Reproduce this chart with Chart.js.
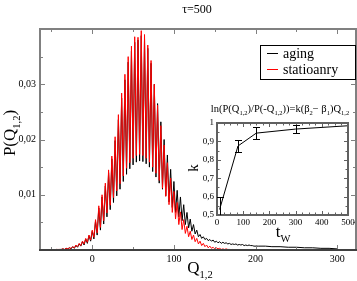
<!DOCTYPE html>
<html>
<head>
<meta charset="utf-8">
<script src="https://cdn.jsdelivr.net/npm/chart.js@4.4.1/dist/chart.umd.min.js"></script>
<style>
  html, body { margin: 0; padding: 0; background: #fff; }
  #wrap { position: relative; width: 357px; height: 281px; }
  #insetBox { position: absolute; left: 180px; top: 100px; width: 177px; height: 145px; }
</style>
</head>
<body>
<div id="wrap">
  <canvas id="mainChart" width="357" height="281"></canvas>
  <div id="insetBox"><canvas id="insetChart" width="177" height="145"></canvas></div>
</div>
<script>
// ---- data: P(Q_1,2), comb-shaped (peak / valley alternating every 2 in Q) ----
const qGrid = [
  -48, -46, -44, -42, -40, -38, -36, -34, -32, -30,
  -28, -26, -24, -22, -20, -18, -16, -14, -12, -10,
  -8, -6, -4, -2, 0, 2, 4, 6, 8, 10,
  12, 14, 16, 18, 20, 22, 24, 26, 28, 30,
  32, 34, 36, 38, 40, 42, 44, 46, 48, 50,
  52, 54, 56, 58, 60, 62, 64, 66, 68, 70,
  72, 74, 76, 78, 80, 82, 84, 86, 88, 90,
  92, 94, 96, 98, 100, 102, 104, 106, 108, 110,
  112, 114, 116, 118, 120, 122, 124, 126, 128, 130,
  132, 134, 136, 138, 140, 142, 144, 146, 148, 150,
  152, 154, 156, 158, 160, 162, 164, 166, 168, 170,
  172, 174, 176, 178, 180, 182, 184, 186, 188, 190,
  192, 194, 196, 198
];
const agingP = [
  0.0000, 0.0000, 0.0001, 0.0000, 0.0001, 0.0001, 0.0002, 0.0001, // -48
  0.0003, 0.0002, 0.0004, 0.0002, 0.0006, 0.0003, 0.0008, 0.0005, // -32
  0.0011, 0.0007, 0.0015, 0.0009, 0.0020, 0.0012, 0.0026, 0.0016, // -16
  0.0034, 0.0020, 0.0052, 0.0027, 0.0076, 0.0036, 0.0096, 0.0047, // 0
  0.0116, 0.0060, 0.0140, 0.0073, 0.0165, 0.0086, 0.0198, 0.0098, // 16
  0.0236, 0.0110, 0.0275, 0.0124, 0.0308, 0.0137, 0.0340, 0.0147, // 32
  0.0360, 0.0154, 0.0376, 0.0159, 0.0380, 0.0161, 0.0388, 0.0160, // 48
  0.0382, 0.0156, 0.0365, 0.0150, 0.0338, 0.0142, 0.0300, 0.0132, // 64
  0.0265, 0.0121, 0.0232, 0.0110, 0.0200, 0.0098, 0.0172, 0.0087, // 80
  0.0146, 0.0077, 0.0124, 0.0068, 0.0108, 0.0060, 0.0096, 0.0053, // 96
  0.0082, 0.0046, 0.0068, 0.0040, 0.0056, 0.0034, 0.0046, 0.0029, // 112
  0.0036, 0.0024, 0.0028, 0.0021, 0.0024, 0.0019, 0.0021, 0.0017, // 128
  0.0019, 0.0016, 0.0018, 0.0014, 0.0016, 0.0013, 0.0015, 0.0012, // 144
  0.0014, 0.0012, 0.0013, 0.0011, 0.0012, 0.0010, 0.0011, 0.0010, // 160
  0.0011, 0.0009, 0.0010, 0.0009, 0.0010, 0.0008, 0.0009, 0.0008, // 176
  0.0009, 0.0008, 0.0008, 0.0007                                  // 192
];
const statP = [
  0.0000, 0.0000, 0.0001, 0.0001, 0.0001, 0.0001, 0.0002, 0.0001, // -48
  0.0003, 0.0002, 0.0004, 0.0003, 0.0006, 0.0004, 0.0009, 0.0006, // -32
  0.0012, 0.0008, 0.0016, 0.0011, 0.0021, 0.0014, 0.0027, 0.0018, // -16
  0.0036, 0.0023, 0.0055, 0.0031, 0.0080, 0.0041, 0.0100, 0.0053, // 0
  0.0121, 0.0067, 0.0145, 0.0081, 0.0170, 0.0095, 0.0205, 0.0107, // 16
  0.0245, 0.0120, 0.0284, 0.0134, 0.0318, 0.0148, 0.0350, 0.0158, // 32
  0.0369, 0.0166, 0.0386, 0.0171, 0.0385, 0.0173, 0.0397, 0.0171, // 48
  0.0390, 0.0166, 0.0371, 0.0159, 0.0343, 0.0150, 0.0300, 0.0139, // 64
  0.0262, 0.0126, 0.0225, 0.0112, 0.0190, 0.0097, 0.0158, 0.0082, // 80
  0.0130, 0.0068, 0.0106, 0.0056, 0.0086, 0.0046, 0.0069, 0.0037, // 96
  0.0055, 0.0030, 0.0043, 0.0024, 0.0034, 0.0019, 0.0027, 0.0015, // 112
  0.0021, 0.0011, 0.0016, 0.0008, 0.0012, 0.0006, 0.0009, 0.0004, // 128
  0.0007, 0.0003, 0.0005, 0.0002, 0.0004, 0.0002, 0.0003, 0.0001, // 144
  0.0002, 0.0001, 0.0002, 0.0001, 0.0001, 0.0000, 0.0001, 0.0000, // 160
  0.0001, 0.0000, 0.0000, 0.0000, 0.0000, 0.0000, 0.0000, 0.0000, // 176
  0.0000, 0.0000, 0.0000, 0.0000                                  // 192
];
// aging keeps a slow tail past Q=200
const tailQ = [204, 212, 220, 230, 240, 250, 260, 270, 280, 290, 300];
const agingTail = [0.0007, 0.0007, 0.0006, 0.0006, 0.0005, 0.0005, 0.0004, 0.0004, 0.0003, 0.0003, 0.0002];

// ---- inset: k vs t_W ----
const tW = [10, 80, 150, 300, 500];
const kVal = [0.53, 0.875, 0.945, 0.967, 0.985];
const kErr = [0.07, 0.03, 0.032, 0.022, 0.0];

const SERIF = '"Liberation Serif", "DejaVu Serif", serif';

function pts(xs, ys) { return xs.map((x, i) => ({ x: x, y: ys[i] })); }

// text with subscripts: parts = [[text, isSub], ...]
function richText(ctx, parts, x, y, size, align) {
  const sub = size * 0.62;
  let w = 0;
  parts.forEach(p => { ctx.font = (p[1] ? sub : size) + "px " + SERIF; w += ctx.measureText(p[0]).width; });
  let cx = align === "center" ? x - w / 2 : x;
  ctx.textAlign = "left";
  ctx.textBaseline = "alphabetic";
  parts.forEach(p => {
    ctx.font = (p[1] ? sub : size) + "px " + SERIF;
    ctx.fillText(p[0], cx, p[1] ? y + size * 0.3 : y);
    cx += ctx.measureText(p[0]).width;
  });
}

// inward ticks on all four sides + frame
const frameTicks = {
  id: "frameTicks",
  afterDatasetsDraw(chart, args, o) {
    const { ctx, chartArea: a, scales } = chart;
    ctx.save();
    ctx.strokeStyle = o.tickColor;
    ctx.lineWidth = 1;
    ctx.beginPath();
    scales.x.ticks.forEach(t => {
      const px = Math.round(scales.x.getPixelForValue(t.value)) + 0.5;
      const len = t.label ? o.major : o.minor;
      ctx.moveTo(px, a.bottom); ctx.lineTo(px, a.bottom - len);
      ctx.moveTo(px, a.top); ctx.lineTo(px, a.top + len);
    });
    scales.y.ticks.forEach(t => {
      const py = Math.round(scales.y.getPixelForValue(t.value)) + 0.5;
      const len = t.label ? o.major : o.minor;
      ctx.moveTo(a.left, py); ctx.lineTo(a.left + len, py);
      ctx.moveTo(a.right, py); ctx.lineTo(a.right - len, py);
    });
    ctx.stroke();
    ctx.lineWidth = o.frameWidth;
    ctx.strokeStyle = o.frameColor;
    ctx.beginPath();
    ctx.moveTo(a.left, a.bottom); ctx.lineTo(a.left, a.top); ctx.lineTo(a.right, a.top); ctx.lineTo(a.right, a.bottom);
    ctx.stroke();
    ctx.strokeStyle = o.bottomColor || o.frameColor;
    ctx.beginPath();
    ctx.moveTo(a.left - 1, a.bottom); ctx.lineTo(a.right + 1, a.bottom);
    ctx.stroke();
    ctx.restore();
  }
};

// ===== main chart =====
const mainLabels = {
  id: "mainLabels",
  afterDraw(chart) {
    const { ctx } = chart;
    ctx.save();
    ctx.fillStyle = "#000";
    // title
    richText(ctx, [["\u03c4=500", false]], 197, 13, 12, "center");
    // x title
    richText(ctx, [["Q", false], ["1,2", true]], 200, 273, 17, "center");
    // y title (rotated)
    ctx.save();
    ctx.translate(15, 133);
    ctx.rotate(-Math.PI / 2);
    richText(ctx, [["P(Q", false], ["1,2", true], [")", false]], 0, 0, 17, "center");
    ctx.restore();
    // legend
    const ds = chart.data.datasets;
    ctx.fillStyle = "#fff";
    ctx.fillRect(260.5, 45.5, 95, 34);
    ctx.strokeStyle = "#000";
    ctx.lineWidth = 1;
    ctx.strokeRect(260.5, 45.5, 95, 34);
    ds.forEach((d, i) => {
      const y = 53.5 + i * 16;
      ctx.strokeStyle = d.borderColor;
      ctx.beginPath(); ctx.moveTo(267, y); ctx.lineTo(278, y); ctx.stroke();
      ctx.fillStyle = "#000";
      richText(ctx, [[d.label, false]], 283, y + 4.5, 14, "left");
    });
    ctx.restore();
  }
};

new Chart(document.getElementById("mainChart"), {
  type: "line",
  data: {
    datasets: [
      { label: "aging", data: pts(qGrid, agingP).concat(pts(tailQ, agingTail)), borderColor: "#000000", order: 2 },
      { label: "statioanry", data: pts(qGrid, statP), borderColor: "#ff0000", order: 1 },
    ],
  },
  options: {
    responsive: false, animation: false,
    elements: { point: { radius: 0 }, line: { borderWidth: 1, tension: 0 } },
    layout: { padding: { top: 29, right: 1, left: 0, bottom: 0 } },
    scales: {
      x: {
        type: "linear", min: -64, max: 323,
        grid: { display: false, drawTicks: false }, border: { display: false },
        ticks: {
          stepSize: 50, includeBounds: false, autoSkip: false, maxRotation: 0, padding: 3,
          color: "#000", font: { family: SERIF, size: 10 },
          callback: (v) => (v % 100 === 0 ? String(v) : ""),
        },
        afterFit: (s) => { s.height = 31; },
      },
      y: {
        min: 0, max: 0.04,
        grid: { display: false, drawTicks: false }, border: { display: false },
        ticks: {
          stepSize: 0.005, includeBounds: false, autoSkip: false, padding: 4,
          color: "#000", font: { family: SERIF, size: 10 },
          callback: (v) => {
            const r = Math.round(v * 1000);
            return r > 0 && r < 40 && r % 10 === 0 ? "0," + String(r / 10).padStart(2, "0") : "";
          },
        },
        afterFit: (s) => { s.width = 40; },
      },
    },
    plugins: {
      legend: { display: false }, tooltip: { enabled: false },
      frameTicks: { tickColor: "#808080", frameColor: "#808080", bottomColor: "#404040", frameWidth: 2, major: 5, minor: 3 },
    },
  },
  plugins: [frameTicks, mainLabels],
});

// ===== inset =====
const errorBars = {
  id: "errorBars",
  afterDatasetsDraw(chart) {
    const { ctx, scales, chartArea: a } = chart;
    ctx.save();
    ctx.beginPath();
    ctx.rect(a.left, a.top - 5, a.right - a.left, a.bottom - a.top + 5);
    ctx.clip();
    ctx.strokeStyle = "#000";
    ctx.lineWidth = 1;
    ctx.beginPath();
    tW.forEach((t, i) => {
      if (!kErr[i]) return;
      const px = Math.round(scales.x.getPixelForValue(t)) + 0.5;
      const y1 = Math.round(scales.y.getPixelForValue(kVal[i] + kErr[i])) + 0.5;
      const y2 = Math.round(scales.y.getPixelForValue(kVal[i] - kErr[i])) + 0.5;
      ctx.moveTo(px, y1); ctx.lineTo(px, y2);
      ctx.moveTo(px - 3.5, y1); ctx.lineTo(px + 3.5, y1);
      ctx.moveTo(px - 3.5, y2); ctx.lineTo(px + 3.5, y2);
    });
    ctx.stroke();
    ctx.restore();
  }
};

const insetLabels = {
  id: "insetLabels",
  afterDraw(chart) {
    const { ctx } = chart;
    ctx.save();
    ctx.fillStyle = "#000";
    richText(ctx, [
      ["ln(P(Q", false], ["1,2", true], [")/P(-Q", false], ["1,2", true],
      ["))=k(\u03b2", false], ["2", true], ["\u2212 \u03b2", false], ["1", true],
      [")Q", false], ["1,2", true],
    ], 100, 12, 10.5, "center");
    richText(ctx, [["t", false], ["W", true]], 103, 137, 17, "center");
    ctx.save();
    ctx.translate(18, 68);
    ctx.rotate(-Math.PI / 2);
    richText(ctx, [["k", false]], 0, 0, 15, "center");
    ctx.restore();
    ctx.restore();
  }
};

new Chart(document.getElementById("insetChart"), {
  type: "line",
  data: { datasets: [{ label: "k", data: pts(tW, kVal), borderColor: "#000" }] },
  options: {
    responsive: false, animation: false,
    elements: { point: { radius: 0 }, line: { borderWidth: 1, tension: 0 } },
    layout: { padding: { top: 23, right: 9, left: 0, bottom: 0 } },
    scales: {
      x: {
        type: "linear", min: 0, max: 500,
        grid: { display: false, drawTicks: false }, border: { display: false },
        ticks: {
          stepSize: 25, autoSkip: false, maxRotation: 0, padding: 2,
          color: "#000", font: { family: SERIF, size: 9 },
          callback: (v) => (v % 100 === 0 ? String(v) : ""),
        },
        afterFit: (s) => { s.height = 30; },
      },
      y: {
        min: 0.5, max: 1,
        grid: { display: false, drawTicks: false }, border: { display: false },
        ticks: {
          stepSize: 0.05, autoSkip: false, padding: 3,
          color: "#000", font: { family: SERIF, size: 9 },
          callback: (v) => {
            const r = Math.round(v * 100);
            if (r % 10 !== 0) return "";
            return r === 100 ? "1" : "0," + r / 10;
          },
        },
        afterFit: (s) => { s.width = 37; },
      },
    },
    plugins: {
      legend: { display: false }, tooltip: { enabled: false },
      frameTicks: { tickColor: "#606060", frameColor: "#606060", frameWidth: 2, major: 4, minor: 2.5 },
    },
  },
  plugins: [frameTicks, errorBars, insetLabels],
});
</script>
</body>
</html>
